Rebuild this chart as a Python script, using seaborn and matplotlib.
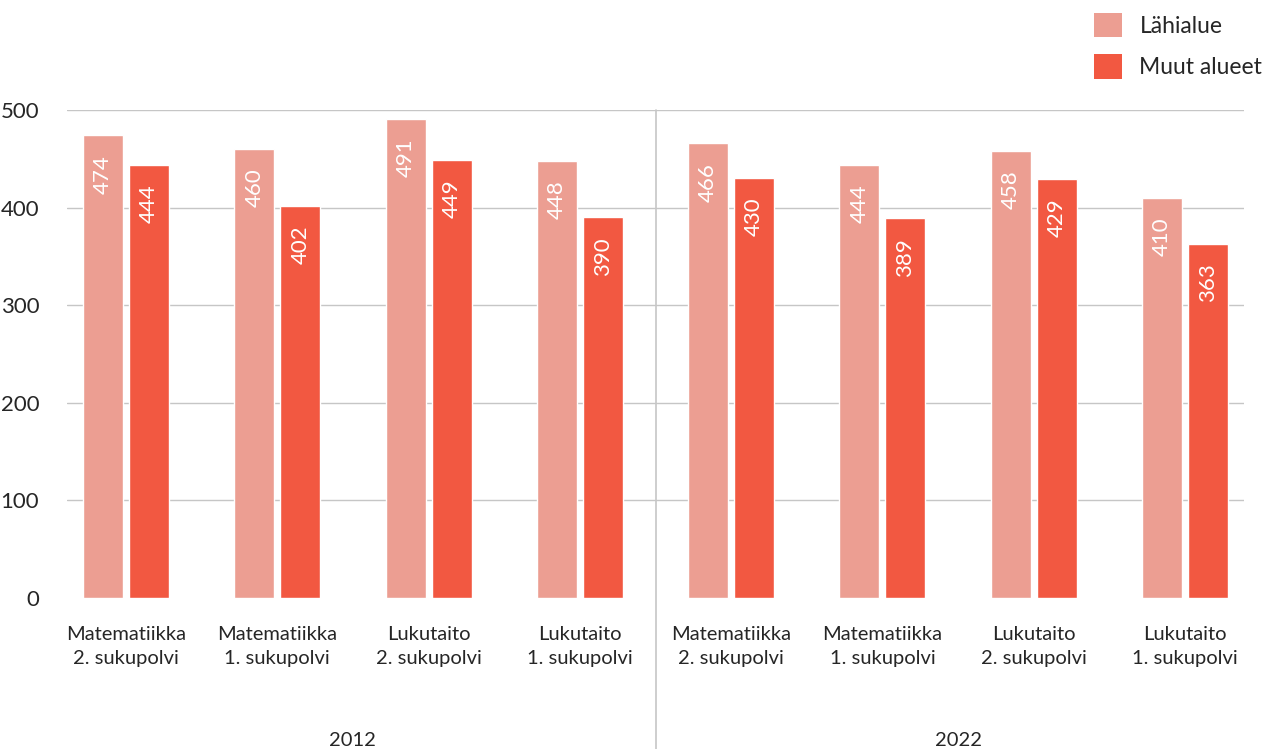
import pandas as pd
import numpy as np
import matplotlib
matplotlib.use('Agg')
import matplotlib.pyplot as plt
import seaborn as sns
from matplotlib.patches import Patch

# Data
years = ['2012', '2022']
groups = ['Matematiikka\n2. sukupolvi', 'Matematiikka\n1. sukupolvi',
          'Lukutaito\n2. sukupolvi', 'Lukutaito\n1. sukupolvi']
series = ['Lähialue', 'Muut alueet']
lahialue = [474, 460, 491, 448, 466, 444, 458, 410]
muut_alueet = [444, 402, 449, 390, 430, 389, 429, 363]
y_ticks = [0, 100, 200, 300, 400, 500]

colors = ['#EC9E92', '#F25841']

# Long format table for seaborn
keys = [f'{y}|{g}' for y in years for g in groups]
labels = [g for y in years for g in groups]
df = pd.DataFrame({
    'key': keys * 2,
    'alue': [series[0]] * len(keys) + [series[1]] * len(keys),
    'arvo': lahialue + muut_alueet,
})

sns.set_style('white')
plt.rcParams['font.family'] = ['Lato', 'DejaVu Sans']

fig = plt.figure(figsize=(12.72, 7.49), dpi=100)
ax = fig.add_axes([67 / 1272, 151 / 749, 1177 / 1272, 488 / 749])

sns.barplot(data=df, x='key', y='arvo', hue='alue', order=keys,
            hue_order=series, palette=colors, width=0.608, gap=0.13,
            saturation=1, legend=False, ax=ax)

# value labels inside bars
for cont in ax.containers:
    for bar in cont:
        h = bar.get_height()
        ax.text(bar.get_x() + bar.get_width() / 2, h - 20, f'{h:.0f}',
                rotation=90, ha='center', va='top', color='white', fontsize=16)

ax.set_ylim(0, 500)
ax.set_xlim(-0.39, 7.39)
ax.set_yticks(y_ticks)
ax.yaxis.grid(True, color='#c6c6c6', linewidth=1)
ax.get_ygridlines()[0].set_visible(False)
ax.set_axisbelow(True)
ax.set_xticks(range(len(keys)))
ax.set_xticklabels(labels, fontsize=14.5, linespacing=1.5)
ax.tick_params(axis='x', length=0, pad=20)
ax.tick_params(axis='y', length=0, pad=20, labelsize=16)
ax.set_xlabel('')
ax.set_ylabel('')
for s in ax.spines.values():
    s.set_visible(False)

# separator between years
ax.plot([3.5, 3.5], [1, -151 / 488], transform=ax.get_xaxis_transform(),
        color='#c6c6c6', linewidth=1.2, clip_on=False)

# year labels
for i, y in enumerate(years):
    ax.text(1.5 + 4 * i, -0.292, y, transform=ax.get_xaxis_transform(),
            ha='center', va='center', fontsize=14.5)

handles = [Patch(facecolor=c, edgecolor='none') for c in colors]
fig.legend(handles, series, loc='upper right', bbox_to_anchor=(1.005, 1.004),
           frameon=False, fontsize=16.5, handlelength=1.25, handleheight=1.25,
           labelspacing=0.75, handletextpad=0.75, borderaxespad=0.3)

fig.savefig('out.png', dpi=100)
